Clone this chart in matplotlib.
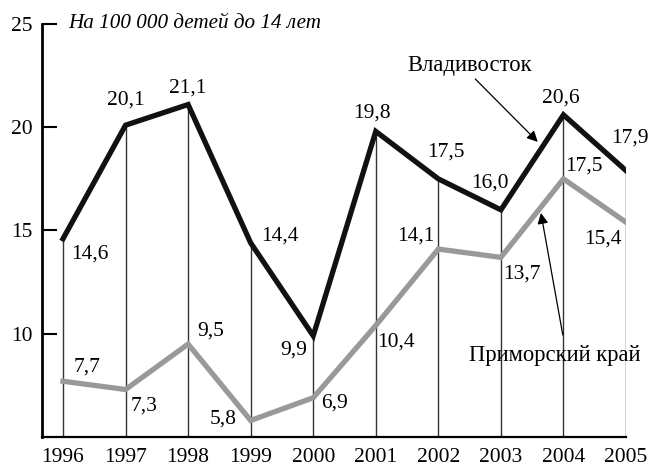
import numpy as np
import matplotlib
matplotlib.use('Agg')
import matplotlib.pyplot as plt

years = [1996, 1997, 1998, 1999, 2000, 2001, 2002, 2003, 2004, 2005]
vladivostok = [14.6, 20.1, 21.1, 14.4, 9.9, 19.8, 17.5, 16.0, 20.6, 17.9]
primorye = [7.7, 7.3, 9.5, 5.8, 6.9, 10.4, 14.1, 13.7, 17.5, 15.4]
y_ticks = [10, 15, 20, 25]

# label offsets in pixels (dx, dy)
vlad_off = [(27, -15), (0, 25), (0, 16), (29, 7), (-20, -14),
            (-4, 18), (8, 27), (-11, 27), (-3, 17), (4, 33)]
prim_off = [(24, 14), (19, -17), (23, 13), (-27, 1), (21, -5),
            (20, -17), (-22, 13), (21, -17), (20, 13), (-23, -17)]

def fmt(v):
    return ('%.1f' % v).replace('.', ',')

plt.rcParams['font.family'] = ['Liberation Serif', 'DejaVu Serif']

fig = plt.figure(figsize=(6.49, 4.66), dpi=100)
ax = fig.add_axes([42 / 649, 1 - 437 / 466, (626 - 42) / 649, (437 - 24) / 466])

# thin verticals from the axis up to the upper line
ax.vlines(years, 5, vladivostok, color='#333333', lw=1.0, zorder=1)

ax.plot(years, primorye, color='#999999', lw=3.8, solid_joinstyle='miter', zorder=2)
ax.plot(years, vladivostok, color='#111111', lw=3.8, solid_joinstyle='miter', zorder=3)

px = 0.72  # points per pixel at dpi 100
for x, v, (dx, dy) in zip(years, vladivostok, vlad_off):
    ax.annotate(fmt(v), (x, v), xytext=(dx * px, dy * px), textcoords='offset points',
                ha='center', va='center', fontsize=15.5)
for x, v, (dx, dy) in zip(years, primorye, prim_off):
    ax.annotate(fmt(v), (x, v), xytext=(dx * px, dy * px), textcoords='offset points',
                ha='center', va='center', fontsize=15.5)

# series names with arrows
ax.text(2002.5, 22.97, 'Владивосток', ha='center', va='center', fontsize=16.3)
ax.annotate('', xy=(2003.59, 19.29), xytext=(2002.59, 22.34),
            arrowprops=dict(arrowstyle='-|>', color='black', lw=0.9, mutation_scale=16,
                            shrinkA=0, shrinkB=0))
ax.text(2003.86, 8.97, 'Приморский край', ha='center', va='center', fontsize=16.3)
ax.annotate('', xy=(2003.64, 15.85), xytext=(2003.99, 9.94),
            arrowprops=dict(arrowstyle='-|>', color='black', lw=0.9, mutation_scale=16,
                            shrinkA=0, shrinkB=0))

ax.text(1996.08, 25, 'На 100 000 детей до 14 лет', ha='left', va='center',
        fontsize=15.2, style='italic')

ax.set_xlim(1996 - 21 / 62.56, 2005)
ax.set_ylim(5, 25)
ax.set_xticks(years)
ax.set_yticks(y_ticks)
ax.tick_params(axis='x', length=0, pad=8, labelsize=15.5)
ax.tick_params(axis='y', direction='in', length=11, width=1.5, pad=7, labelsize=15.5)
ax.spines['top'].set_visible(False)
ax.spines['right'].set_visible(False)
ax.spines['left'].set_linewidth(2)
ax.spines['bottom'].set_linewidth(1.6)

fig.savefig('out.png', dpi=100)
